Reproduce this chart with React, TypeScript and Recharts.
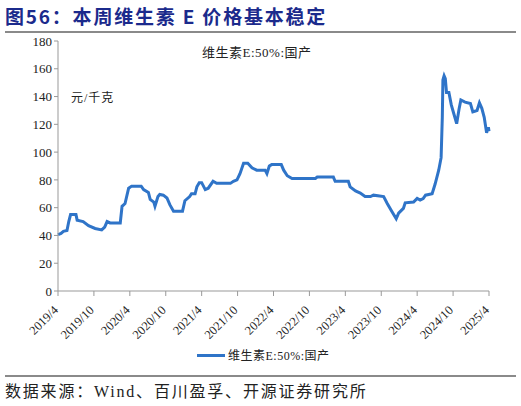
import React from "react";
import { LineChart, Line, XAxis, YAxis } from "recharts";

// months since 2019/4 and price (元/千克)
const months = [
  0, 0.5, 0.9, 1.5, 1.8, 2.1, 3.0, 3.2, 4.2, 5.1, 6.2, 7.3, 7.8, 8.2, 8.7, 10.4, 10.7, 11.2, 11.8, 12.3,
  13.9, 14.3, 15.1, 15.4, 16.0, 16.2, 16.7, 17.0, 17.6, 18.2, 18.7, 19.3, 20.8, 21.2, 22.0, 22.3, 22.9, 23.2,
  23.6, 24.0, 24.6, 25.1, 25.9, 26.5, 28.8, 29.3, 29.9, 30.4, 31.0, 31.7, 32.4, 33.2, 34.6, 34.9, 35.3, 35.7,
  37.3, 37.7, 38.3, 39.1, 43.0, 43.3, 46.0, 46.3, 48.5, 48.8, 49.7, 50.5, 51.3, 52.2, 52.7, 54.4, 55.0, 55.8,
  56.5, 56.9, 57.7, 58.0, 59.4, 60.0, 60.5, 61.0, 61.4, 62.5, 63.0, 63.6, 64.0, 64.2, 64.3, 64.5, 64.7, 64.9,
  65.3, 65.7, 66.1, 66.6, 67.0, 67.3, 68.0, 68.9, 69.3, 70.0, 70.4, 70.8, 71.2, 71.6, 71.9, 72.0,
];
const prices = [
  40.5, 41.5, 43, 43.5, 50, 55, 55, 51, 50, 47, 45, 44, 46, 50, 49, 49, 61, 63, 74, 75.5,
  75.5, 73, 71, 66, 64, 61, 68, 69.5, 69, 67, 62, 57.5, 57.5, 65, 68, 70, 70, 75,
  78, 78, 73, 74, 79, 77.5, 77.5, 79, 80, 84.5, 92, 92, 88.7, 87, 87, 84.5, 90, 91,
  91, 87, 83, 81, 81, 82, 82, 79, 79, 75, 72, 70.5, 68, 68, 69, 68, 63, 57,
  52, 56, 59.5, 63.5, 64, 66.7, 65.5, 66.5, 69, 70, 77, 87, 96, 125, 152, 155, 153, 143,
  143, 134, 128, 120.5, 131, 137.5, 136, 135, 129, 130, 135.5, 131.5, 125, 114, 118, 115,
];
const tickLabels = [
  "2019/4", "2019/10", "2020/4", "2020/10", "2021/4", "2021/10", "2022/4",
  "2022/10", "2023/4", "2023/10", "2024/4", "2024/10", "2025/4",
];
const yTicks = [0, 20, 40, 60, 80, 100, 120, 140, 160, 180];
const seriesName = "维生素E:50%:国产";

const data = months.map((m, i) => ({ m, v: prices[i] }));
const xTicks = tickLabels.map((_, i) => i * 6);

const serif = '"Liberation Serif", "Noto Sans CJK SC", serif';

const RotatedTick = (props: any) => {
  const { x, y, payload } = props;
  return (
    <g transform={`translate(${x - 2},${y + 10})`}>
      <text
        transform="rotate(-45)"
        textAnchor="end"
        fontSize={12.5}
        fontFamily={serif}
        fill="#222"
        dy={4}
      >
        {tickLabels[payload.value / 6]}
      </text>
    </g>
  );
};

const App = () => {
  return (
    <div
      style={{
        position: "absolute",
        left: 0,
        top: 0,
        width: 521,
        height: 406,
        background: "#fff",
        fontFamily: serif,
      }}
    >
      <div
        style={{
          position: "absolute",
          left: 5,
          top: 2,
          fontSize: 19,
          fontWeight: 700,
          color: "#1B2A8C",
          fontFamily: '"Noto Sans CJK SC", sans-serif',
          letterSpacing: 1.8,
        }}
      >
        图56：本周维生素 E 价格基本稳定
      </div>
      <div style={{ position: "absolute", left: 5, top: 31, width: 511, height: 1.5, background: "#8a8a8a" }} />

      <LineChart
        width={521}
        height={406}
        data={data}
        margin={{ top: 41, right: 32, bottom: 65, left: 8 }}
        style={{ position: "absolute", left: 0, top: 0 }}
      >
        <XAxis
          type="number"
          dataKey="m"
          domain={[0, 72]}
          ticks={xTicks}
          interval={0}
          height={50}
          stroke="#999"
          tickSize={5}
          tick={<RotatedTick />}
        />
        <YAxis
          type="number"
          domain={[0, 180]}
          ticks={yTicks}
          interval={0}
          width={50}
          stroke="#999"
          tickSize={4}
          tick={{ fill: "#222", fontSize: 13, fontFamily: serif }}
        />
        <Line
          type="linear"
          dataKey="v"
          name={seriesName}
          stroke="#2F74C8"
          strokeWidth={3}
          dot={false}
          isAnimationActive={false}
        />
      </LineChart>

      <div style={{ position: "absolute", left: 202, top: 42, fontSize: 13, color: "#222", letterSpacing: 0.5 }}>
        {seriesName}
      </div>
      <div style={{ position: "absolute", left: 71, top: 88, fontSize: 12, color: "#222", letterSpacing: 1 }}>
        元/千克
      </div>

      <div style={{ position: "absolute", left: 197, top: 346, display: "flex", alignItems: "center" }}>
        <div style={{ width: 28, height: 3, background: "#2F74C8", marginRight: 3 }} />
        <span style={{ fontSize: 12, color: "#222", letterSpacing: 0.5 }}>{seriesName}</span>
      </div>

      <div style={{ position: "absolute", left: 5, top: 375, width: 511, height: 1.5, background: "#8a8a8a" }} />
      <div style={{ position: "absolute", left: 5, top: 378, fontSize: 16, color: "#222", letterSpacing: 1.8 }}>
        数据来源：Wind、百川盈孚、开源证券研究所
      </div>
    </div>
  );
};

export default App;
